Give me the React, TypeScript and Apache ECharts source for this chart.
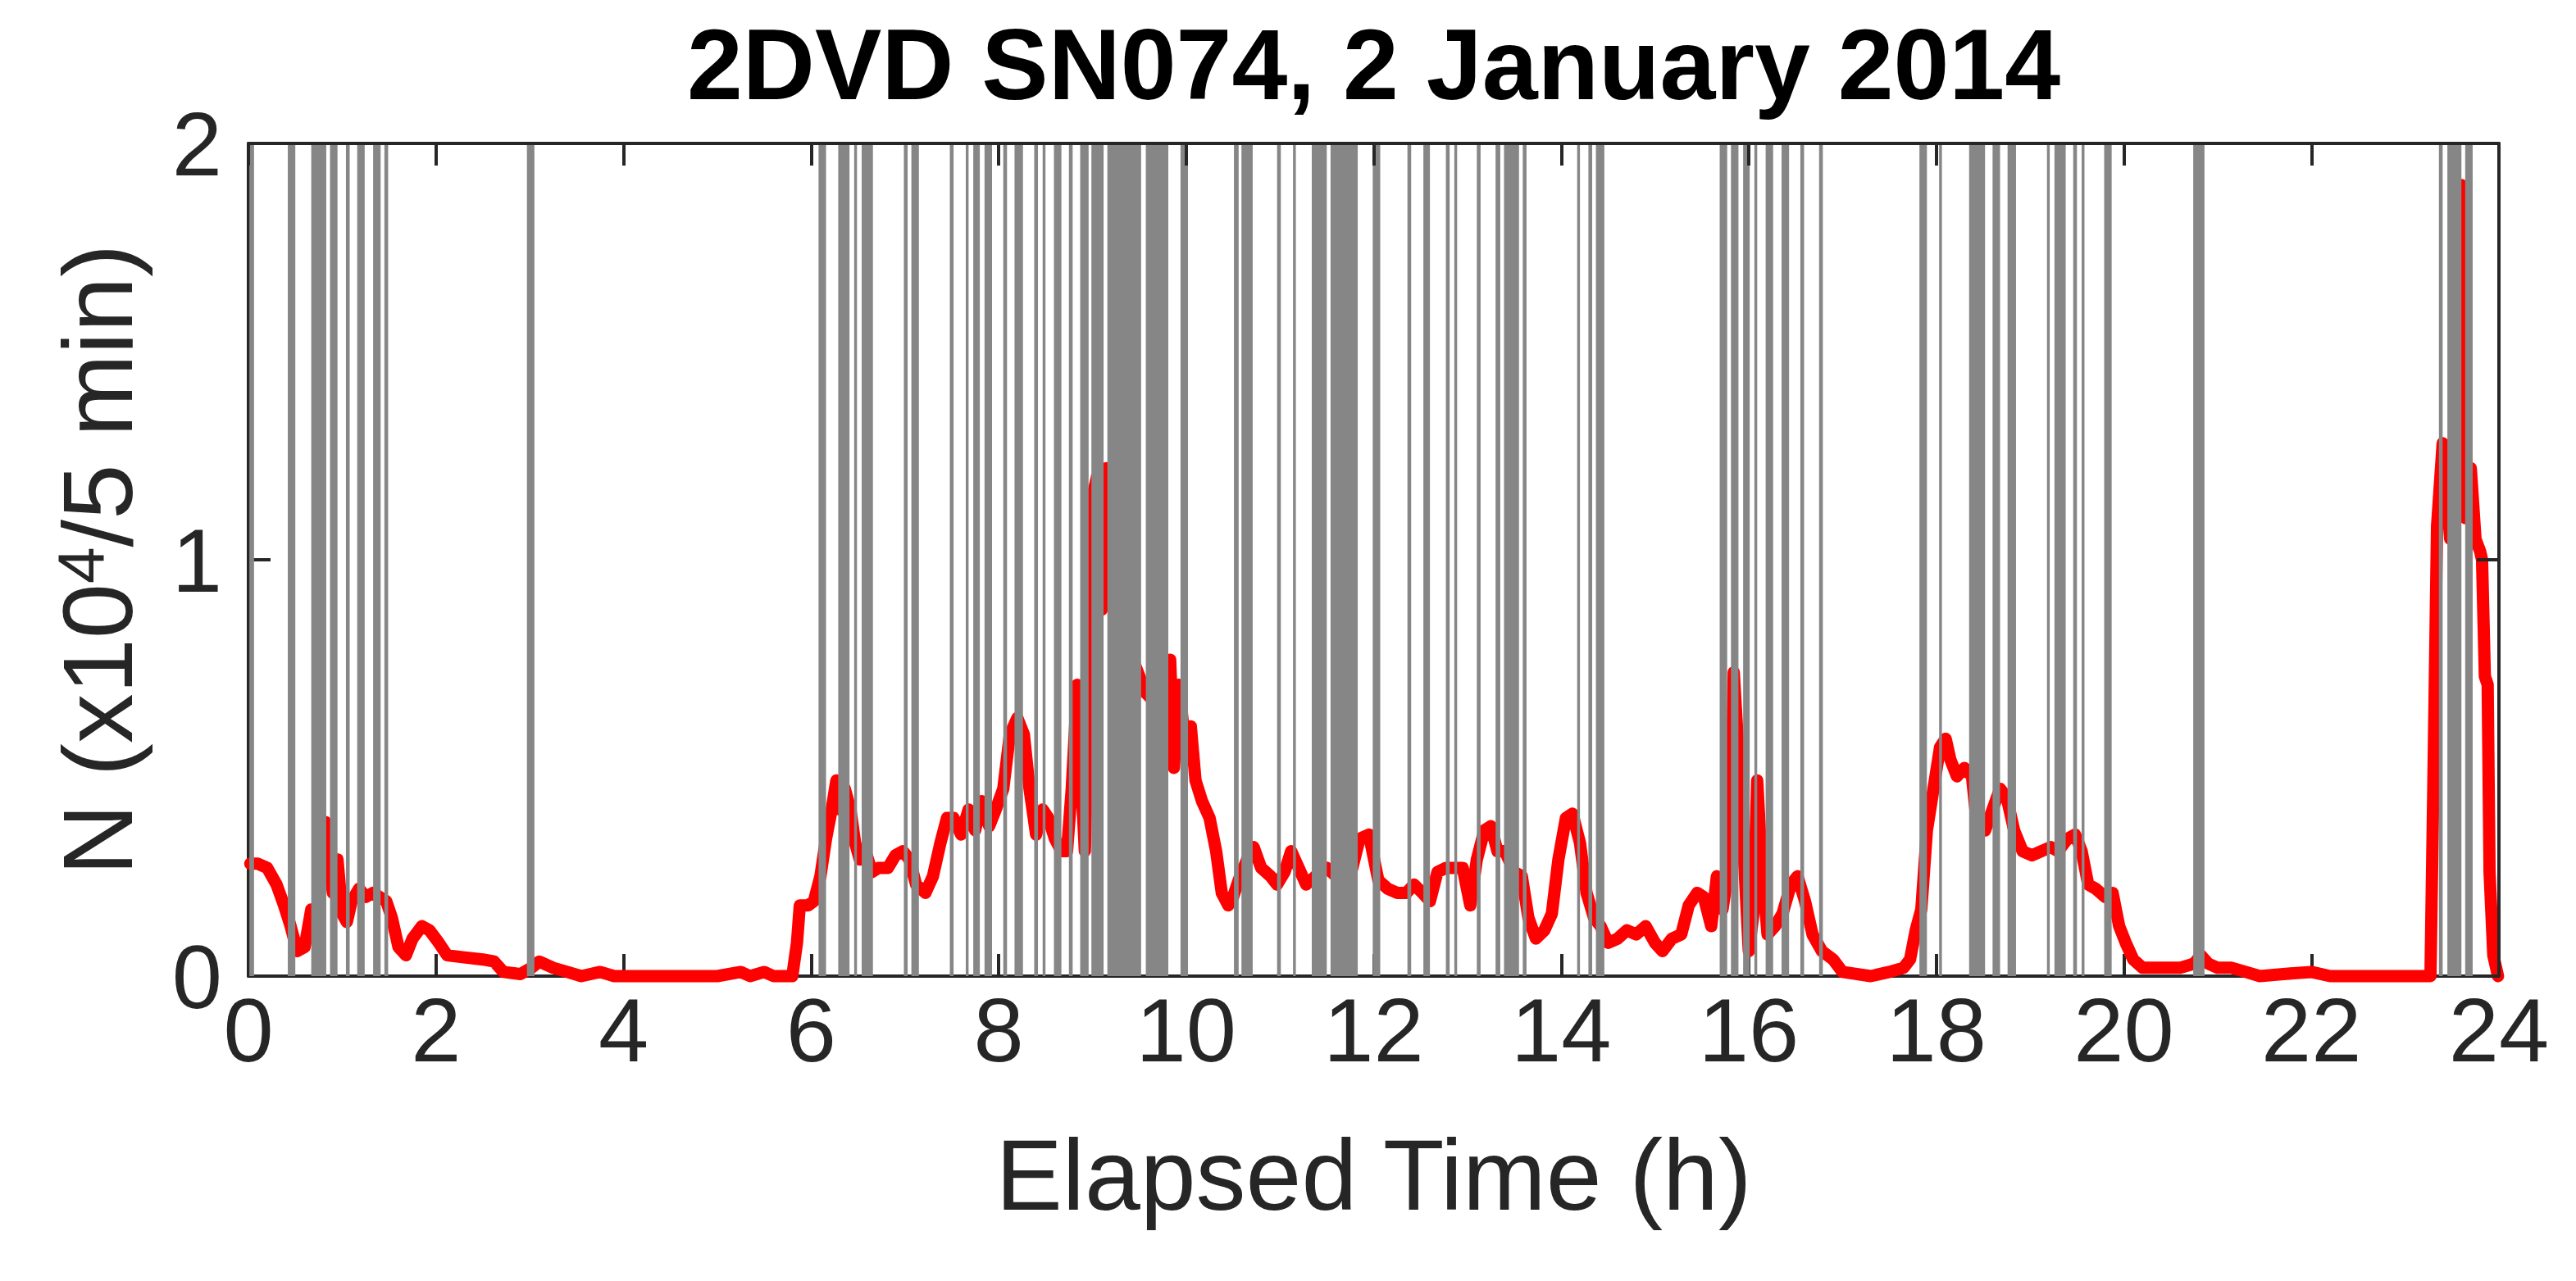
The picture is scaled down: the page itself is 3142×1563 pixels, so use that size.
import React, { useEffect, useRef } from "react";
import * as echarts from "echarts";

const TITLE = "2DVD SN074, 2 January 2014";
const X_NAME = "Elapsed Time (h)";
const Y_NAME = "{a|N (x10}{s|4}{a|/5 min)}";

// Elapsed time (h) and drop count N (x10^4 / 5 min)
const timeH = [
  0.02, 0.1, 0.2, 0.3, 0.38, 0.45, 0.52, 0.6, 0.67, 0.72, 0.78, 0.82, 0.86, 0.9, 0.95, 1.0, 1.05, 1.1, 1.18, 1.25,
  1.33, 1.4, 1.47, 1.53, 1.6, 1.68, 1.75, 1.85, 1.93, 2.03, 2.12, 2.3, 2.5, 2.62, 2.72, 2.9, 3.02, 3.1, 3.25, 3.4,
  3.55, 3.75, 3.9, 4.2, 4.6, 5.0, 5.25, 5.35, 5.5, 5.6, 5.8, 5.85, 5.88, 5.97, 6.03, 6.1, 6.16, 6.22, 6.27, 6.31,
  6.36, 6.42, 6.47, 6.52, 6.58, 6.65, 6.72, 6.82, 6.9, 6.98, 7.05, 7.12, 7.22, 7.3, 7.38, 7.45, 7.52, 7.6, 7.68, 7.75,
  7.82, 7.9, 7.97, 8.05, 8.12, 8.2, 8.27, 8.33, 8.4, 8.47, 8.53, 8.6, 8.67, 8.73, 8.78, 8.84, 8.88, 8.92, 8.96, 9.0,
  9.05, 9.1, 9.15, 9.2, 9.3, 9.45, 9.57, 9.7, 9.83, 9.87, 9.92, 9.98, 10.05, 10.1, 10.17, 10.25, 10.32, 10.38, 10.45, 10.5,
  10.56, 10.65, 10.72, 10.8, 10.9, 10.97, 11.05, 11.12, 11.2, 11.28, 11.38, 11.5, 11.6, 11.75, 11.85, 11.95, 12.05, 12.15, 12.25, 12.35,
  12.43, 12.52, 12.6, 12.68, 12.77, 12.86, 12.95, 13.03, 13.1, 13.18, 13.25, 13.32, 13.4, 13.5, 13.58, 13.65, 13.73, 13.82, 13.9, 13.97,
  14.05, 14.12, 14.2, 14.27, 14.35, 14.42, 14.5, 14.6, 14.7, 14.8, 14.9, 15.0, 15.08, 15.18, 15.28, 15.36, 15.45, 15.52, 15.6, 15.66,
  15.72, 15.8, 15.84, 15.9, 15.95, 16.0, 16.05, 16.09, 16.13, 16.2, 16.28, 16.36, 16.45, 16.52, 16.6, 16.68, 16.78, 16.9, 17.0, 17.3,
  17.5, 17.65, 17.72, 17.78, 17.84, 17.9, 17.97, 18.04, 18.1, 18.15, 18.22, 18.3, 18.38, 18.44, 18.52, 18.6, 18.68, 18.75, 18.83, 18.92,
  19.02, 19.12, 19.22, 19.3, 19.4, 19.48, 19.55, 19.62, 19.7, 19.8, 19.88, 19.95, 20.02, 20.1, 20.2, 20.4, 20.6, 20.75, 20.82, 20.9,
  21.0, 21.15, 21.3, 21.45, 21.7, 22.0, 22.2, 22.6, 23.0, 23.27, 23.3, 23.34, 23.4, 23.48, 23.55, 23.6, 23.64, 23.7, 23.75, 23.8,
  23.82, 23.85, 23.88, 23.9, 23.94, 23.99,
];
const countN = [
  0.27, 0.27, 0.26, 0.22, 0.17, 0.12, 0.06, 0.07, 0.16, 0.12, 0.28, 0.37, 0.3, 0.2, 0.28, 0.15, 0.13, 0.18, 0.21, 0.19,
  0.2, 0.19, 0.18, 0.14, 0.07, 0.05, 0.09, 0.12, 0.11, 0.08, 0.05, 0.045, 0.04, 0.035, 0.01, 0.005, 0.02, 0.035, 0.02, 0.01,
  0.0, 0.01, 0.0, 0.0, 0.0, 0.0, 0.01, 0.0, 0.01, 0.0, 0.0, 0.08, 0.17, 0.17, 0.18, 0.24, 0.33, 0.4, 0.47, 0.4,
  0.45, 0.4, 0.32, 0.28, 0.3, 0.25, 0.26, 0.26, 0.29, 0.3, 0.28, 0.22, 0.2, 0.24, 0.32, 0.38, 0.38, 0.34, 0.4, 0.35,
  0.42, 0.36, 0.4, 0.45, 0.58, 0.62, 0.58, 0.45, 0.34, 0.4, 0.38, 0.33, 0.3, 0.3, 0.45, 0.7, 0.48, 0.3, 0.65, 1.15,
  1.2, 0.88, 1.22, 0.9, 0.95, 0.75, 0.68, 0.65, 0.76, 0.5, 0.7, 0.58, 0.6, 0.47, 0.42, 0.38, 0.3, 0.2, 0.17, 0.19,
  0.23, 0.28, 0.31, 0.26, 0.24, 0.22, 0.25, 0.3, 0.26, 0.22, 0.24, 0.26, 0.24, 0.24, 0.33, 0.34, 0.23, 0.21, 0.2, 0.2,
  0.22, 0.2, 0.18, 0.25, 0.26, 0.26, 0.26, 0.17, 0.28, 0.35, 0.36, 0.3, 0.3, 0.25, 0.24, 0.14, 0.09, 0.11, 0.15, 0.28,
  0.38, 0.39, 0.32, 0.2, 0.14, 0.12, 0.08, 0.09, 0.11, 0.1, 0.12, 0.08, 0.06, 0.09, 0.1, 0.17, 0.2, 0.19, 0.12, 0.24,
  0.16, 0.28, 0.73, 0.5, 0.28, 0.06, 0.15, 0.47, 0.3, 0.1, 0.12, 0.15, 0.22, 0.24, 0.18, 0.1, 0.06, 0.04, 0.01, 0.0,
  0.01, 0.02, 0.04, 0.11, 0.16, 0.35, 0.45, 0.55, 0.57, 0.52, 0.48, 0.5, 0.48, 0.35, 0.35, 0.4, 0.45, 0.43, 0.35, 0.3,
  0.29, 0.3, 0.31, 0.3, 0.33, 0.34, 0.3, 0.22, 0.21, 0.19, 0.2, 0.12, 0.08, 0.04, 0.02, 0.02, 0.02, 0.03, 0.05, 0.03,
  0.02, 0.02, 0.01, 0.0, 0.005, 0.01, 0.0, 0.0, 0.0, 0.0, 0.45, 1.08, 1.28, 1.05, 1.4, 1.9, 1.1, 1.22, 1.05, 1.02,
  1.0, 0.72, 0.7, 0.25, 0.05, 0.0,
];

// Flagged periods (gray vertical bands), start and end in hours
const flagStart = [
  0.01, 0.42, 0.67, 0.87, 1.04, 1.16, 1.33, 1.45, 2.97,
  6.08, 6.29, 6.46, 6.54, 6.99, 7.07, 7.48, 7.65, 7.73, 7.85,
  8.05, 8.17, 8.38, 8.47, 8.59, 8.75, 8.87, 8.99, 9.16, 9.57, 9.94, 10.51, 10.59, 10.97, 11.14, 11.34, 11.54,
  11.99, 12.36, 12.53, 12.77, 12.86, 13.1, 13.3, 13.39, 13.59, 14.17, 14.29, 14.37, 15.69, 15.81, 15.94,
  16.06, 16.18, 16.35, 16.55, 16.75, 17.82, 18.03, 18.35, 18.6, 18.76, 19.18, 19.26, 19.46, 19.55, 19.79,
  20.74, 23.36, 23.45, 23.64,
];
const flagEnd = [
  0.06, 0.5, 0.83, 0.95, 1.08, 1.24, 1.41, 1.49, 3.05,
  6.16, 6.41, 6.49, 6.66, 7.03, 7.15, 7.52, 7.68, 7.8, 7.93,
  8.09, 8.26, 8.42, 8.5, 8.67, 8.79, 8.96, 9.12, 9.52, 9.81, 10.02, 10.56, 10.71, 11.01, 11.17, 11.5, 11.83,
  12.07, 12.4, 12.6, 12.81, 12.89, 13.14, 13.35, 13.55, 13.63, 14.2, 14.33, 14.46, 15.77, 15.89, 16.01,
  16.09, 16.26, 16.43, 16.59, 16.79, 17.9, 18.06, 18.52, 18.68, 18.85, 19.21, 19.38, 19.5, 19.58, 19.87,
  20.86, 23.4, 23.6, 23.72,
];

const FONT = "'Liberation Sans', Arial, Helvetica, sans-serif";
const INK = "#262626";

export default function App() {
  const ref = useRef<HTMLDivElement>(null);

  useEffect(() => {
    if (!ref.current) return;
    const chart = echarts.init(ref.current, undefined, { renderer: "svg" });
    const gridLeft = 303;
    const gridRight = 94;
    const plotCenter = gridLeft + (3142 - gridLeft - gridRight) / 2;

    const axisLine = { show: true, onZero: false, lineStyle: { color: INK, width: 4 } };
    const tick = { show: true, inside: true, length: 27, lineStyle: { color: INK, width: 4 } };

    const option: any = {
      animation: false,
      backgroundColor: "#ffffff",
      grid: { left: gridLeft, right: gridRight, top: 175, bottom: 372, containLabel: false },
      graphic: [
        {
          type: "text",
          x: plotCenter,
          y: 79,
          style: {
            text: TITLE,
            fill: "#000000",
            font: `bold 122px ${FONT}`,
            textAlign: "center",
            textVerticalAlign: "middle",
          },
        },
      ],
      xAxis: [
        {
          type: "value",
          min: 0,
          max: 24,
          interval: 2,
          position: "bottom",
          name: X_NAME,
          nameLocation: "middle",
          nameGap: 182,
          nameTextStyle: { fontSize: 122, color: INK, fontFamily: FONT },
          axisLine,
          axisTick: tick,
          splitLine: { show: false },
          axisLabel: { fontSize: 110, lineHeight: 60, color: INK, fontFamily: FONT, margin: 35 },
        },
        {
          type: "value",
          min: 0,
          max: 24,
          interval: 2,
          position: "top",
          z: 10,
          axisLine,
          axisTick: tick,
          splitLine: { show: false },
          axisLabel: { show: false },
        },
      ],
      yAxis: [
        {
          type: "value",
          min: 0,
          max: 2,
          interval: 1,
          position: "left",
          name: Y_NAME,
          nameLocation: "middle",
          nameRotate: 90,
          nameGap: 124,
          nameTextStyle: {
            color: INK,
            fontFamily: FONT,
            fontSize: 121,
            rich: {
              a: { fontSize: 121, color: INK, fontFamily: FONT },
              s: { fontSize: 80, color: INK, fontFamily: FONT, verticalAlign: "top" },
            },
          },
          axisLine,
          axisTick: tick,
          splitLine: { show: false },
          axisLabel: { fontSize: 110, lineHeight: 60, color: INK, fontFamily: FONT, margin: 32 },
        },
        {
          type: "value",
          min: 0,
          max: 2,
          interval: 1,
          position: "right",
          z: 10,
          axisLine,
          axisTick: tick,
          splitLine: { show: false },
          axisLabel: { show: false },
        },
      ],
      series: [
        {
          type: "line",
          xAxisIndex: 0,
          yAxisIndex: 0,
          data: timeH.map((t, i) => [t, countN[i]]),
          showSymbol: false,
          symbol: "none",
          clip: false,
          z: 2,
          lineStyle: { color: "#ff0000", width: 15, cap: "round", join: "round" },
        },
        {
          type: "custom",
          xAxisIndex: 0,
          yAxisIndex: 0,
          z: 5,
          silent: true,
          encode: { x: [0, 1] },
          data: flagStart.map((s, i) => [s, flagEnd[i]]),
          renderItem: (_params: any, api: any) => {
            const p0 = api.coord([api.value(0), 2]);
            const p1 = api.coord([api.value(1), 0]);
            return {
              type: "rect",
              shape: { x: p0[0], y: p0[1], width: Math.max(p1[0] - p0[0], 1), height: p1[1] - p0[1] },
              style: { fill: "#868686" },
            };
          },
        },
      ],
    };
    chart.setOption(option);
    return () => chart.dispose();
  }, []);

  return (
    <div
      ref={ref}
      style={{ position: "fixed", left: 0, top: 0, width: 3142, height: 1563, background: "#fff" }}
    />
  );
}
